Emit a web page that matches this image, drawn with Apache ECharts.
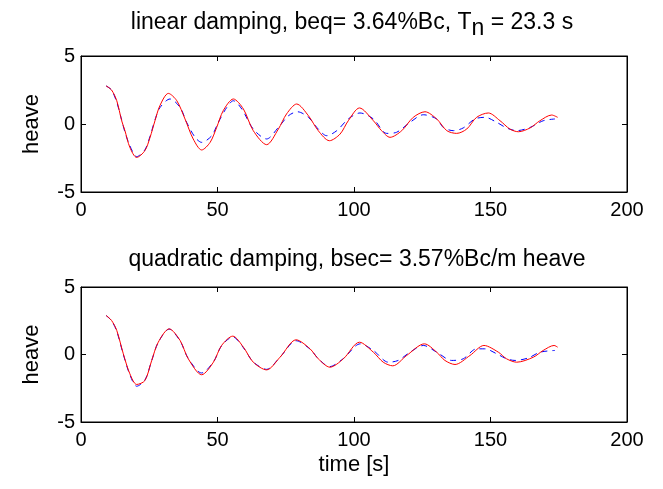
<!DOCTYPE html>
<html>
<head>
<meta charset="utf-8">
<script src="https://cdn.jsdelivr.net/npm/echarts@6/dist/echarts.min.js"></script>
<style>
  html, body { margin: 0; padding: 0; background: #fff; }
  #chart { width: 663px; height: 489px; }
</style>
</head>
<body>
<div id="chart"></div>
<script>
// 顶部：线性阻尼
const tTopRed = [9.2, 11.2, 13.1, 14.9, 16.1, 17.9, 20.4, 23.4, 25.3, 27.1, 28.9, 32.0, 35.1, 38.1, 41.1, 44.2, 47.3, 49.7, 52.1, 55.8, 59.5, 63.1, 68.0, 72.3, 75.3, 79.0, 83.3, 86.9, 91.0, 94.9, 97.9, 102.0, 107.1, 110.1, 113.2, 117.5, 121.7, 126.0, 130.3, 134.0, 137.6, 141.3, 144.9, 149.2, 153.5, 157.1, 160.2, 164.5, 168.1, 172.4, 174.6];
const vTopRed = [2.8, 2.5, 1.71, 0.24, -0.49, -1.72, -2.46, -1.96, -0.98, 0.24, 1.35, 2.25, 1.71, 0.37, -1.1, -1.91, -1.35, -0.25, 0.98, 1.84, 1.1, -0.49, -1.52, -0.37, 0.74, 1.47, 0.61, -0.49, -1.23, -0.74, 0.24, 1.18, 0.24, -0.49, -0.98, -0.49, 0.49, 0.9, 0.37, -0.49, -0.69, -0.37, 0.49, 0.81, 0.24, -0.37, -0.57, -0.29, 0.24, 0.66, 0.49];
const tTopBlue = [9.2, 11.2, 13.1, 14.9, 16.1, 17.9, 20.4, 23.4, 25.3, 27.1, 28.9, 32.6, 36.3, 38.7, 41.8, 44.2, 47.9, 50.3, 53.4, 55.8, 58.9, 63.1, 68.0, 72.3, 76.0, 79.3, 83.3, 86.9, 90.0, 93.7, 97.9, 102.2, 107.1, 112.0, 115.6, 120.5, 125.4, 130.3, 132.7, 136.4, 140.0, 144.3, 148.0, 152.3, 155.9, 159.6, 164.5, 169.3, 173.6];
const vTopBlue = [2.8, 2.5, 1.6, 0.3, -0.6, -1.6, -2.4, -1.9, -0.9, 0.3, 1.2, 1.84, 1.22, 0.12, -0.98, -1.35, -0.86, 0.12, 1.22, 1.71, 1.1, -0.37, -1.1, -0.25, 0.61, 0.9, 0.49, -0.37, -0.86, -0.49, 0.37, 0.81, 0.37, -0.69, -0.61, 0.12, 0.68, 0.37, -0.25, -0.49, -0.29, 0.37, 0.49, 0.12, -0.29, -0.49, -0.25, 0.24, 0.37];

// 底部：二次阻尼
const tBotRed = [9.2, 11.2, 13.1, 15.5, 17.9, 20.4, 23.4, 25.9, 28.3, 32.3, 36.3, 39.3, 44.2, 48.5, 51.5, 55.6, 59.5, 63.1, 68.0, 72.9, 78.8, 83.9, 86.9, 91.2, 96.1, 102.0, 107.1, 110.7, 114.2, 119.3, 125.8, 130.3, 133.3, 137.0, 142.5, 147.6, 152.9, 155.9, 159.6, 165.7, 169.3, 173.3, 174.6];
const vBotRed = [2.89, 2.52, 1.78, 0.05, -1.43, -2.22, -1.93, -0.44, 0.91, 1.9, 1.04, -0.32, -1.5, -0.57, 0.67, 1.36, 0.54, -0.57, -1.14, -0.2, 1.09, 0.42, -0.32, -0.94, -0.32, 0.91, 0.17, -0.57, -0.84, -0.07, 0.79, 0.17, -0.44, -0.74, -0.07, 0.67, 0.17, -0.32, -0.57, -0.2, 0.3, 0.67, 0.54];
const tBotBlue = [9.2, 11.2, 13.1, 15.5, 17.9, 20.4, 23.4, 25.9, 28.3, 32.3, 36.3, 39.3, 44.2, 48.5, 51.5, 55.6, 59.5, 63.1, 68.0, 72.9, 78.8, 83.9, 86.9, 91.0, 96.1, 102.3, 107.1, 112.6, 116.2, 120.5, 125.4, 130.3, 135.8, 140.0, 144.9, 147.9, 152.3, 155.9, 159.0, 163.9, 168.1, 173.6];
const vBotBlue = [2.89, 2.5, 1.72, 0.0, -1.5, -2.35, -1.9, -0.45, 0.9, 1.88, 1.0, -0.3, -1.37, -0.55, 0.65, 1.3, 0.5, -0.55, -1.1, -0.2, 1.02, 0.4, -0.3, -0.9, -0.3, 0.79, 0.3, -0.57, -0.44, 0.17, 0.67, 0.17, -0.44, -0.32, 0.42, 0.42, 0.05, -0.32, -0.44, -0.25, 0.17, 0.3];

const xTicks = [0, 200, 50];   // min, max, interval
const yTicks = [-5, 5, 5];

const titleTop = 'linear damping, beq= 3.64%Bc, T{sub|n} = 23.3 s';
const titleBot = 'quadratic damping, bsec= 3.57%Bc/m heave';

const font = 'Liberation Sans, Arial, Helvetica, sans-serif';
const fsTick = 20;   // 刻度文字
const fsLabel = 22;  // 轴名
const fsTitle = 23;  // 标题

function pairs(t, v) {
  return t.map((x, i) => [x, v[i]]);
}

function xAx(gridIndex, pos, showLabel, name) {
  return {
    type: 'value', gridIndex: gridIndex, position: pos,
    min: xTicks[0], max: xTicks[1], interval: xTicks[2],
    axisLine: { show: true, onZero: false, lineStyle: { color: '#000', width: 1 } },
    axisTick: { show: true, inside: true, length: 5, lineStyle: { color: '#000' } },
    axisLabel: { show: showLabel, color: '#000', fontSize: fsTick, fontFamily: font, margin: 8 },
    splitLine: { show: false },
    name: name || '', nameLocation: 'middle', nameGap: 32,
    nameTextStyle: { color: '#000', fontSize: fsLabel, fontFamily: font }
  };
}

function yAx(gridIndex, pos, showLabel) {
  return {
    type: 'value', gridIndex: gridIndex, position: pos,
    min: yTicks[0], max: yTicks[1], interval: yTicks[2],
    axisLine: { show: true, onZero: false, lineStyle: { color: '#000', width: 1 } },
    axisTick: { show: true, inside: true, length: 5, lineStyle: { color: '#000' } },
    axisLabel: { show: showLabel, color: '#000', fontSize: fsTick, fontFamily: font, margin: 6 },
    splitLine: { show: false },
    name: showLabel ? 'heave' : '', nameLocation: 'middle', nameGap: 38,
    nameTextStyle: { color: '#000', fontSize: fsLabel, fontFamily: font }
  };
}

const chart = echarts.init(document.getElementById('chart'), null, { renderer: 'canvas' });

const option = {
  backgroundColor: '#fff',
  animation: false,
  title: [
    {
      text: titleTop, left: 347, textAlign: 'center', top: 0,
      textStyle: {
        color: '#000', fontSize: fsTitle, fontWeight: 'normal', fontFamily: font,
        rich: { sub: { fontSize: fsTitle, fontFamily: font, color: '#000', padding: [12, 0, 0, 0] } }
      }
    },
    {
      text: titleBot, left: 352, textAlign: 'center', top: 243,
      textStyle: { color: '#000', fontSize: fsTitle, fontWeight: 'normal', fontFamily: font }
    }
  ],
  grid: [
    { left: 81, right: 36, top: 56, height: 136, show: true, borderColor: '#000', borderWidth: 1 },
    { left: 81, right: 36, top: 287, height: 135, show: true, borderColor: '#000', borderWidth: 1 }
  ],
  xAxis: [
    xAx(0, 'bottom', true),
    xAx(0, 'top', false),
    xAx(1, 'bottom', true, 'time [s]'),
    xAx(1, 'top', false)
  ],
  yAxis: [
    yAx(0, 'left', true),
    yAx(0, 'right', false),
    yAx(1, 'left', true),
    yAx(1, 'right', false)
  ],
  series: [
    {
      type: 'line', xAxisIndex: 0, yAxisIndex: 0, data: pairs(tTopBlue, vTopBlue),
      showSymbol: false, smooth: 0.3,
      lineStyle: { color: '#0000ff', width: 1, type: [6, 5] }
    },
    {
      type: 'line', xAxisIndex: 0, yAxisIndex: 0, data: pairs(tTopRed, vTopRed),
      showSymbol: false, smooth: 0.3,
      lineStyle: { color: '#ff0000', width: 1 }
    },
    {
      type: 'line', xAxisIndex: 2, yAxisIndex: 2, data: pairs(tBotBlue, vBotBlue),
      showSymbol: false, smooth: 0.3,
      lineStyle: { color: '#0000ff', width: 1, type: [6, 5] }
    },
    {
      type: 'line', xAxisIndex: 2, yAxisIndex: 2, data: pairs(tBotRed, vBotRed),
      showSymbol: false, smooth: 0.3,
      lineStyle: { color: '#ff0000', width: 1 }
    }
  ]
};

chart.setOption(option);
</script>
</body>
</html>
